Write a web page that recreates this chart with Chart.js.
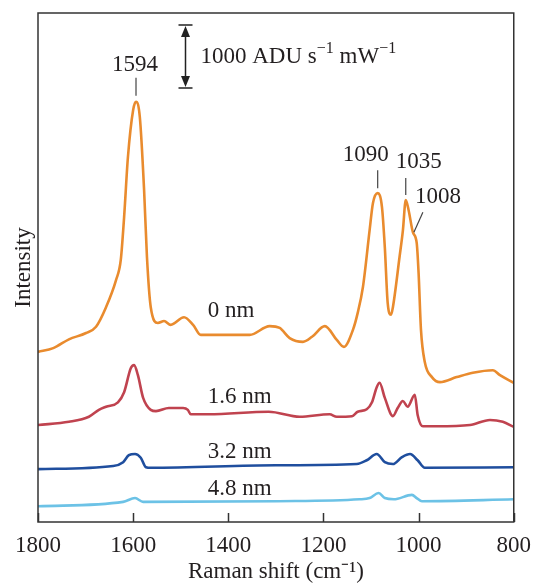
<!DOCTYPE html>
<html>
<head>
<meta charset="utf-8">
<script src="https://cdn.jsdelivr.net/npm/chart.js@4.4.1/dist/chart.umd.min.js"></script>
<style>
    html, body { margin: 0; padding: 0; background: #fff; }
    canvas { display: block; }
</style>
</head>
<body>
<canvas id="myChart" width="533" height="583"></canvas>
<script>
"use strict";

// Raman shift (cm-1) and intensity (ADU s-1 mW-1, with offsets) for each spacer thickness
const shift0 = [1800, 1768, 1735, 1699, 1678, 1657, 1636, 1626, 1619, 1611, 1600, 1594, 1586, 1577, 1571, 1563, 1548, 1535, 1521, 1493, 1474, 1458, 1355, 1313, 1292, 1271, 1243, 1224, 1197, 1172, 1157, 1138, 1128, 1117, 1103, 1096, 1086, 1077, 1071, 1065, 1058, 1054, 1040, 1033, 1027, 1021, 1012, 1004, 1000, 995, 987, 972, 955, 920, 886, 844, 829, 800];
const int0 = [2700, 2760, 2900, 3000, 3100, 3410, 3840, 4160, 4840, 5790, 6540, 6670, 6430, 5270, 4210, 3410, 3160, 3190, 3130, 3250, 3130, 2970, 2970, 3110, 3080, 2920, 2860, 2940, 3110, 2890, 2780, 3050, 3320, 3730, 4630, 5060, 5220, 5000, 4360, 3480, 3290, 3410, 4210, 4630, 5110, 4950, 4600, 4430, 3950, 3050, 2540, 2300, 2220, 2300, 2370, 2410, 2330, 2210];

const shift16 = [1800, 1735, 1693, 1672, 1657, 1632, 1619, 1605, 1598, 1590, 1579, 1563, 1552, 1525, 1495, 1485, 1479, 1441, 1315, 1250, 1187, 1172, 1140, 1128, 1109, 1098, 1088, 1082, 1071, 1054, 1044, 1033, 1023, 1008, 1002, 991, 962, 892, 850, 823, 800];
const int16 = [1540, 1590, 1670, 1780, 1830, 1900, 2060, 2440, 2490, 2330, 1970, 1780, 1760, 1810, 1810, 1780, 1710, 1710, 1750, 1670, 1710, 1670, 1680, 1750, 1790, 1900, 2140, 2210, 1970, 1680, 1810, 1920, 1830, 2020, 1700, 1520, 1520, 1540, 1620, 1590, 1510];

const shift32 = [1800, 1642, 1621, 1609, 1596, 1584, 1573, 1563, 1300, 1130, 1109, 1088, 1071, 1054, 1035, 1018, 1002, 987, 800];
const int32 = [840, 890, 950, 1060, 1080, 1020, 870, 860, 900, 920, 980, 1080, 950, 920, 1030, 1080, 980, 860, 870];

const shift48 = [1800, 1621, 1596, 1579, 1300, 1124, 1103, 1084, 1071, 1052, 1014, 1004, 993, 800];
const int48 = [250, 320, 380, 320, 330, 360, 380, 460, 380, 360, 430, 380, 330, 360];

const seriesNames = ["0 nm", "1.6 nm", "3.2 nm", "4.8 nm"];
const seriesColors = ["#e98b2e", "#c0434f", "#1f4e9e", "#6cc2e6"];
const xTicks = [1800, 1600, 1400, 1200, 1000, 800];
const peakLabels = ["1594", "1090", "1035", "1008"];

const font = "'Liberation Serif', 'Times New Roman', serif";
const textColor = "#231f20";

// where the label texts sit (data units) and how the peak markers are offset (px)
const nameAt = [[1443, 3350], [1443, 1985], [1443, 1110], [1443, 525]];
const peakAt = [
    {shift: 1594, dx: -1, dy: -37, t0: [0, -6], t1: [0, -24]},
    {shift: 1086, dx: -12, dy: -38, t0: [0, -5], t1: [0, -23]},
    {shift: 1027, dx: 13, dy: -38, t0: [0, -5], t1: [0, -22]},
    {shift: 1012, dx: 25, dy: -35, t0: [1, 0], t1: [10, -20]}
];
const barShift = 1491, barFrom = 6890, barTo = 7890;

function points(xs, ys) {
    return xs.map(function (x, i) { return {x: x, y: ys[i]}; });
}

function drawArrowHead(ctx, x, y, dir) {
    ctx.beginPath();
    ctx.moveTo(x, y);
    ctx.lineTo(x - 4.5, y + dir * 11);
    ctx.lineTo(x + 4.5, y + dir * 11);
    ctx.closePath();
    ctx.fill();
}

const annotations = {
    id: "annotations",
    afterDatasetsDraw: function (chart) {
        let ctx = chart.ctx;
        let xs = chart.scales.x;
        let ys = chart.scales.y;
        let area = chart.chartArea;
        ctx.save();

        // frame and inward ticks
        ctx.strokeStyle = "#333";
        ctx.lineWidth = 1.5;
        ctx.strokeRect(area.left, area.top, area.right - area.left, area.bottom - area.top);
        xTicks.forEach(function (t) {
            let px = Math.round(xs.getPixelForValue(t)) + 0.5;
            ctx.beginPath();
            ctx.moveTo(px, area.bottom);
            ctx.lineTo(px, area.bottom - 9);
            ctx.stroke();
        });

        // series names
        ctx.fillStyle = textColor;
        ctx.font = "23px " + font;
        ctx.textBaseline = "middle";
        ctx.textAlign = "left";
        seriesNames.forEach(function (name, i) {
            ctx.fillText(name, xs.getPixelForValue(nameAt[i][0]), ys.getPixelForValue(nameAt[i][1]));
        });

        // peak markers
        ctx.strokeStyle = "#444";
        ctx.lineWidth = 1.2;
        ctx.textAlign = "center";
        peakAt.forEach(function (p, i) {
            let idx = shift0.indexOf(p.shift);
            let px = xs.getPixelForValue(p.shift);
            let py = ys.getPixelForValue(int0[idx]);
            ctx.beginPath();
            ctx.moveTo(px + p.t0[0], py + p.t0[1]);
            ctx.lineTo(px + p.t1[0], py + p.t1[1]);
            ctx.stroke();
            ctx.fillText(peakLabels[i], px + p.dx, py + p.dy);
        });

        // intensity scale bar
        let bx = Math.round(xs.getPixelForValue(barShift)) + 0.5;
        let yTop = ys.getPixelForValue(barTo);
        let yBot = ys.getPixelForValue(barFrom);
        ctx.strokeStyle = "#222";
        ctx.fillStyle = "#222";
        ctx.lineWidth = 1.5;
        ctx.beginPath();
        ctx.moveTo(bx - 7, yTop); ctx.lineTo(bx + 7, yTop);
        ctx.moveTo(bx - 7, yBot); ctx.lineTo(bx + 7, yBot);
        ctx.moveTo(bx, yTop + 8); ctx.lineTo(bx, yBot - 8);
        ctx.stroke();
        drawArrowHead(ctx, bx, yTop + 1, 1);
        drawArrowHead(ctx, bx, yBot - 1, -1);

        let parts = [["1000 ADU s", false], ["\u22121", true], [" mW", false], ["\u22121", true]];
        let tx = bx + 15;
        let ty = (yTop + yBot) / 2;
        ctx.textAlign = "left";
        ctx.fillStyle = textColor;
        parts.forEach(function (p) {
            ctx.font = (p[1] ? "16px " : "23px ") + font;
            ctx.fillText(p[0], tx, p[1] ? ty - 8 : ty);
            tx += ctx.measureText(p[0]).width;
        });

        ctx.restore();
    }
};

let datasets = [
    [shift0, int0], [shift16, int16], [shift32, int32], [shift48, int48]
].map(function (d, i) {
    return {
        label: seriesNames[i],
        data: points(d[0], d[1]),
        borderColor: seriesColors[i],
        borderWidth: 2.6,
        pointRadius: 0,
        fill: false,
        cubicInterpolationMode: "monotone"
    };
});

let myChart = new Chart(document.getElementById("myChart"), {
    type: "line",
    data: {datasets: datasets},
    plugins: [annotations],
    options: {
        responsive: false,
        animation: false,
        devicePixelRatio: 1,
        layout: {padding: {top: 13, right: 11, left: 0, bottom: 0}},
        plugins: {legend: {display: false}, tooltip: {enabled: false}},
        scales: {
            x: {
                type: "linear",
                reverse: true,
                min: 800,
                max: 1800,
                afterBuildTicks: function (scale) {
                    scale.ticks = xTicks.map(function (v) { return {value: v}; });
                },
                afterFit: function (scale) { scale.height = 61; },
                grid: {display: false},
                border: {display: false},
                ticks: {
                    autoSkip: false,
                    maxRotation: 0,
                    padding: 2,
                    color: textColor,
                    font: {family: font, size: 23},
                    callback: function (v) { return String(v); }
                },
                title: {
                    display: true,
                    text: "Raman shift (cm\u207B\u00B9)",
                    color: textColor,
                    padding: {top: 0, bottom: 0},
                    font: {family: font, size: 23, lineHeight: 1.0}
                }
            },
            y: {
                min: 0,
                max: 8080,
                afterFit: function (scale) { scale.width = 38; },
                grid: {display: false},
                border: {display: false},
                ticks: {display: false},
                title: {
                    display: true,
                    text: "Intensity",
                    color: textColor,
                    padding: {top: 10, bottom: 0},
                    font: {family: font, size: 23}
                }
            }
        }
    }
});
</script>
</body>
</html>
